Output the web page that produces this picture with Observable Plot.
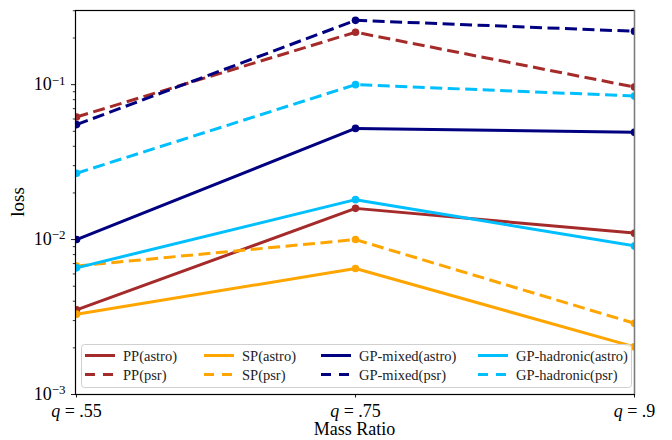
<!DOCTYPE html>
<html>
<head>
<meta charset="utf-8">
<script src="https://cdn.jsdelivr.net/npm/d3@7"></script>
<script src="https://cdn.jsdelivr.net/npm/@observablehq/plot@0.6"></script>
<style>
  body { margin: 0; background: #fff; }
  #chart svg { display: block; }
</style>
</head>
<body>
<div id="chart"></div>
<script>
// Mass-ratio categories along x
const ratios = ["q = .55", "q = .75", "q = .9"];

// Loss per model and dataset, one value per mass ratio
const ppAstro        = [0.00352, 0.0159, 0.0110];
const ppPsr          = [0.0618, 0.218, 0.0965];
const spAstro        = [0.0033, 0.0065, 0.00203];
const spPsr          = [0.00675, 0.0100, 0.00288];
const gpMixedAstro   = [0.0100, 0.0522, 0.0492];
const gpMixedPsr     = [0.0552, 0.260, 0.221];
const gpHadronAstro  = [0.00657, 0.0181, 0.0091];
const gpHadronPsr    = [0.0268, 0.100, 0.0845];

const seriesNames  = ["PP(astro)", "PP(psr)", "SP(astro)", "SP(psr)",
                      "GP-mixed(astro)", "GP-mixed(psr)", "GP-hadronic(astro)", "GP-hadronic(psr)"];
const seriesValues = [ppAstro, ppPsr, spAstro, spPsr, gpMixedAstro, gpMixedPsr, gpHadronAstro, gpHadronPsr];
const seriesColors = ["#a52a2a", "#a52a2a", "#ffa500", "#ffa500", "#000080", "#000080", "#00bfff", "#00bfff"];
const seriesDashed = [false, true, false, true, false, true, false, true];

// Log-axis ticks
const majorTicks = [1e-3, 1e-2, 1e-1];
const minorTicks = [2e-3,3e-3,4e-3,5e-3,6e-3,7e-3,8e-3,9e-3,
                    2e-2,3e-2,4e-2,5e-2,6e-2,7e-2,8e-2,9e-2,
                    2e-1,3e-1];

const serif = "'Liberation Serif', 'DejaVu Serif', serif";
const W = 672, H = 440;
const mL = 75, mR = 38, mT = 10, mB = 46;

const rows = seriesNames.flatMap((name, i) =>
  seriesValues[i].map((v, j) => ({series: name, ratio: ratios[j], loss: v, idx: i})));

const lineMarks = seriesNames.flatMap((name, i) => {
  const data = rows.filter(d => d.idx === i);
  const style = {stroke: seriesColors[i], strokeWidth: 3, clip: true};
  return [
    Plot.line(data, {x: "ratio", y: "loss", ...style,
      strokeDasharray: seriesDashed[i] ? "12,5.5" : null, strokeLinecap: "butt"}),
    Plot.dot(data, {x: "ratio", y: "loss", r: 3.8, fill: seriesColors[i], stroke: null, clip: true})
  ];
});

const chart = Plot.plot({
  width: W, height: H,
  marginLeft: mL, marginRight: mR, marginTop: mT, marginBottom: mB,
  style: {fontFamily: serif, background: "#fff", color: "#000"},
  x: {type: "point", domain: ratios, padding: 0},
  y: {type: "log", domain: [1e-3, 0.301]},
  marks: [
    ...lineMarks,
    Plot.axisY(minorTicks, {tickSize: 2.2, tickFormat: () => "", label: null, stroke: "#000", strokeWidth: 0.8}),
    Plot.axisY(majorTicks, {tickSize: 4, tickPadding: 6, fontSize: 18, label: null,
      tickFormat: d => "10^" + Math.round(Math.log10(d)), strokeWidth: 0.9}),
    Plot.axisX({tickSize: 3.5, tickPadding: 6, fontSize: 18, label: null, strokeWidth: 0.9}),
    Plot.frame({stroke: "#000", strokeWidth: 1.2}),
    Plot.ruleX([ratios[2]], {stroke: "#7a7a7a", strokeWidth: 1.2})
  ]
});

document.getElementById("chart").append(chart);
const svg = d3.select(chart);

// Powers of ten with superscript exponents
svg.selectAll('g[aria-label="y-axis tick label"] text').each(function () {
  const t = d3.select(this);
  const s = t.text();
  if (!s.startsWith("10^")) return;
  const exp = s.slice(3).replace("-", "\u2212");
  t.text("");
  t.append("tspan").text("10");
  t.append("tspan").attr("dy", "-0.45em").attr("font-size", "13px").text(exp);
});

// Italic q in mass-ratio tick labels
svg.selectAll('g[aria-label="x-axis tick label"] text').each(function () {
  const t = d3.select(this);
  const s = t.text();
  const rest = s.replace(/^q/, "");
  t.text("");
  t.append("tspan").attr("font-style", "italic").text("q");
  t.append("tspan").text(rest);
});

// Axis titles
svg.append("text")
  .attr("transform", `translate(17,${(mT + H - mB) / 2}) rotate(-90)`)
  .attr("text-anchor", "middle").attr("dy", "0.35em")
  .attr("font-family", serif).attr("font-size", 19).attr("fill", "#000")
  .text("loss");
svg.append("text")
  .attr("x", (mL + W - mR) / 2).attr("y", 435)
  .attr("text-anchor", "middle")
  .attr("font-family", serif).attr("font-size", 18).attr("fill", "#000")
  .text("Mass Ratio");

// Legend: four columns, two rows, inside the plot frame
const leg = svg.append("g").attr("text-anchor", "start");
leg.append("rect")
  .attr("x", 81.5).attr("y", 344.5).attr("width", 550).attr("height", 43).attr("rx", 3)
  .attr("fill", "#fff").attr("fill-opacity", 0.8).attr("stroke", "#d0d0d0").attr("stroke-width", 1);
const colX = [85, 204, 321, 478];
const rowY = [355.5, 374.5];
seriesNames.forEach((name, i) => {
  const cx = colX[Math.floor(i / 2)], cy = rowY[i % 2];
  leg.append("line")
    .attr("x1", cx).attr("x2", cx + 30).attr("y1", cy).attr("y2", cy)
    .attr("stroke", seriesColors[i]).attr("stroke-width", 3)
    .attr("stroke-dasharray", seriesDashed[i] ? "10,8" : null);
  leg.append("text")
    .attr("x", cx + 38).attr("y", cy).attr("dy", "0.35em")
    .attr("text-anchor", "start")
    .attr("font-family", serif).attr("font-size", 14.5).attr("fill", "#222")
    .text(name);
});
</script>
</body>
</html>
